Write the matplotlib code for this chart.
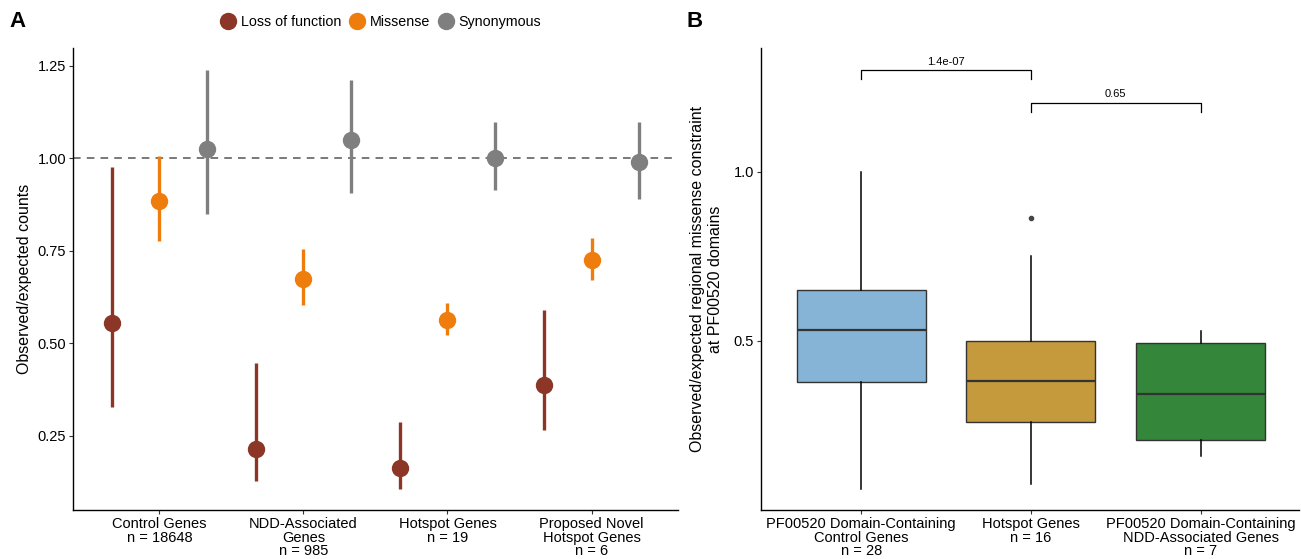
import matplotlib.pyplot as plt
import numpy as np

plt.rcParams['font.family'] = ['Liberation Sans', 'DejaVu Sans']

# ---- panel A data ----
groups_a = ['Control Genes\nn = 18648', 'NDD-Associated\nGenes\nn = 985',
            'Hotspot Genes\nn = 19', 'Proposed Novel\nHotspot Genes\nn = 6']
classes = ['Loss of function', 'Missense', 'Synonymous']
class_colors = ['#8B3626', '#EE7D0E', '#7F7F7F']
oe_point = [[0.555, 0.214, 0.163, 0.387],
            [0.885, 0.674, 0.563, 0.725],
            [1.025, 1.049, 1.001, 0.990]]
oe_low = [[0.328, 0.128, 0.106, 0.266],
          [0.776, 0.604, 0.523, 0.671],
          [0.850, 0.906, 0.914, 0.890]]
oe_high = [[0.977, 0.447, 0.287, 0.590],
           [1.006, 0.755, 0.609, 0.785],
           [1.239, 1.212, 1.098, 1.098]]

# ---- panel B data ----
groups_b = ['PF00520 Domain-Containing\nControl Genes\nn = 28', 'Hotspot Genes\nn = 16',
            'PF00520 Domain-Containing\nNDD-Associated Genes\nn = 7']
box_colors = ['#86B4D7', '#C49A3C', '#33863A']
whislo = [0.063, 0.078, 0.160]
q1 = [0.379, 0.261, 0.208]
med = [0.532, 0.382, 0.343]
q3 = [0.651, 0.500, 0.494]
whishi = [0.999, 0.751, 0.530]
fliers = [[], [0.863], []]
pvals = ['1.4e-07', '0.65']
pairs = [(1, 2), (2, 3)]
bracket_y = [1.300, 1.203]

fig = plt.figure(figsize=(13.01, 5.59), dpi=100)
axA = fig.add_axes([0.0561, 0.0877, 0.4650, 0.8265])
axB = fig.add_axes([0.5850, 0.0877, 0.4135, 0.8265])

# Panel A
x = np.arange(1, len(groups_a) + 1)
dodge = 0.33
handles = []
for i, cls in enumerate(classes):
    xs = x + (i - 1) * dodge
    p = np.array(oe_point[i])
    lo = np.array(oe_low[i])
    hi = np.array(oe_high[i])
    axA.vlines(xs, lo, hi, color=class_colors[i], lw=2.4, zorder=2)
    h, = axA.plot(xs, p, 'o', color=class_colors[i], ms=11.5, zorder=3, label=cls)
    handles.append(h)
axA.axhline(1.0, color='#555555', lw=1.1, ls=(0, (5, 4)), zorder=1)
axA.set_xlim(0.4, 4.6)
axA.set_ylim(0.05, 1.298)
axA.set_yticks([0.25, 0.5, 0.75, 1.0, 1.25])
axA.set_yticklabels(['0.25', '0.50', '0.75', '1.00', '1.25'])
axA.set_xticks(x)
axA.set_xticklabels(groups_a, linespacing=0.98)
axA.set_ylabel('Observed/expected counts', fontsize=11.5, labelpad=4)

# Panel B
stats = []
for k in range(3):
    stats.append(dict(med=med[k], q1=q1[k], q3=q3[k], whislo=whislo[k],
                      whishi=whishi[k], fliers=fliers[k]))
bp = axB.bxp(stats, positions=[1, 2, 3], widths=0.76, patch_artist=True,
             showcaps=False,
             medianprops=dict(color='#333333', lw=1.6),
             whiskerprops=dict(color='black', lw=1.1),
             flierprops=dict(marker='o', ms=3, mfc='#444444', mec='#444444'),
             boxprops=dict(edgecolor='#333333', lw=1.0))
for patch, c in zip(bp['boxes'], box_colors):
    patch.set_facecolor(c)
for (a, b), yb, pv in zip(pairs, bracket_y, pvals):
    axB.plot([a, a, b, b], [yb - 0.027, yb, yb, yb - 0.027], color='black', lw=0.9)
    axB.text((a + b) / 2, yb + 0.01, pv, ha='center', va='bottom', fontsize=8)
axB.set_xlim(0.41, 3.58)
axB.set_ylim(0.0, 1.365)
axB.set_yticks([0.5, 1.0])
axB.set_yticklabels(['0.5', '1.0'])
axB.set_xticks([1, 2, 3])
axB.set_xticklabels(groups_b, linespacing=0.98)
axB.set_ylabel('Observed/expected regional missense constraint\nat PF00520 domains',
               fontsize=11.5, labelpad=8, linespacing=1.25)

for ax in (axA, axB):
    for s in ('top', 'right'):
        ax.spines[s].set_visible(False)
    for s in ('left', 'bottom'):
        ax.spines[s].set_linewidth(1.0)
    ax.tick_params(labelsize=10.5, length=3, width=0.8, pad=2,
                   colors='#333333', labelcolor='black')

fig.legend(handles=handles, labels=classes, loc='center', bbox_to_anchor=(0.2925, 0.961),
           ncol=3, frameon=False, fontsize=10.3, handletextpad=0.25, columnspacing=0.55,
           markerscale=1.0, handlelength=1.2)
fig.text(0.007, 0.962, 'A', fontsize=16, fontweight='bold', va='center')
fig.text(0.528, 0.962, 'B', fontsize=16, fontweight='bold', va='center')

fig.savefig('out.png', dpi=100)
